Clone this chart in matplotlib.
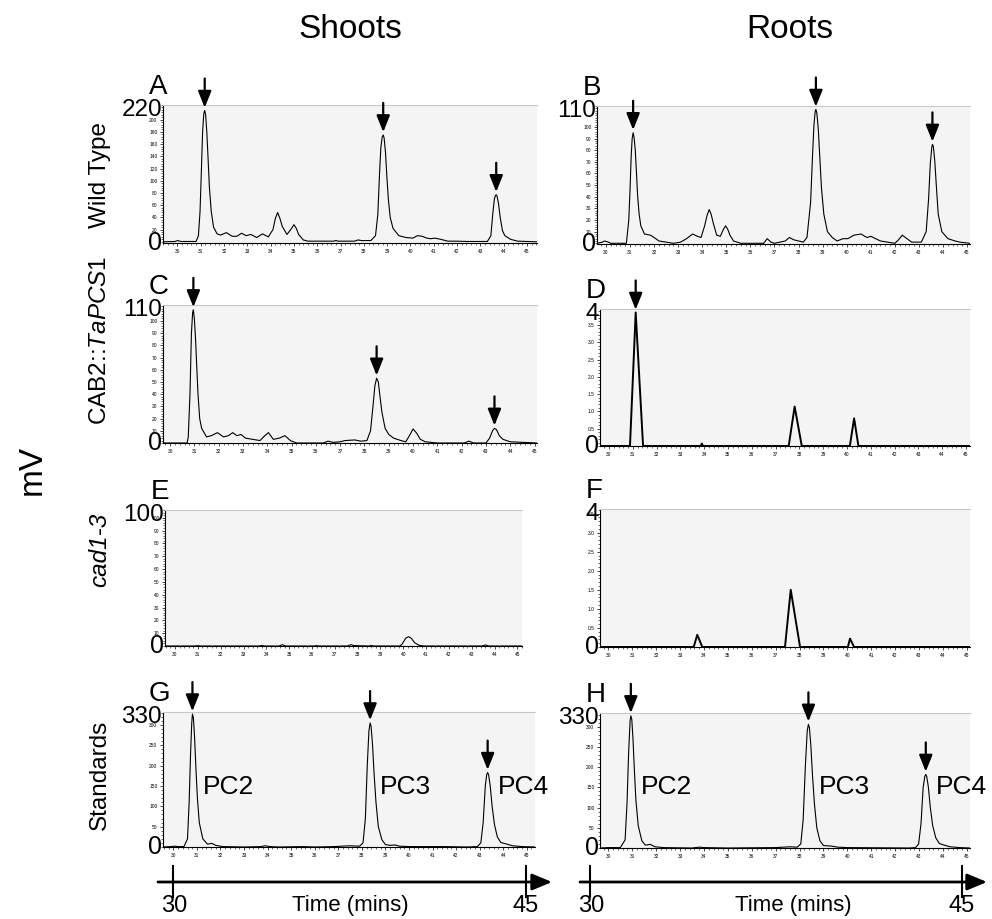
import numpy as np
import matplotlib
matplotlib.use("Agg")
import matplotlib.pyplot as plt
from matplotlib.ticker import AutoMinorLocator, FixedLocator, FormatStrFormatter

plt.rcParams['font.family'] = ['Liberation Sans', 'DejaVu Sans']
plt.rcParams['mathtext.fontset'] = 'custom'
plt.rcParams['mathtext.rm'] = 'Liberation Sans'
plt.rcParams['mathtext.it'] = 'Liberation Sans:italic'

# --- chromatogram traces (time in min, signal in mV) ---
a_time = [29.4, 29.9, 30.0, 30.15, 30.8, 30.9, 30.97, 31.03, 31.08, 31.13, 31.17, 31.21, 31.26,
          31.31, 31.37, 31.45, 31.55, 31.7, 31.85, 32.1, 32.35, 32.55, 32.75, 32.95, 33.15,
          33.4, 33.65, 33.9, 34.1, 34.2, 34.3, 34.4, 34.5, 34.7, 34.9, 35.0, 35.1, 35.2, 35.4,
          35.6, 36.7, 36.8, 36.9, 37.6, 37.75, 37.9, 38.3, 38.5, 38.6, 38.67, 38.73, 38.79,
          38.83, 38.87, 38.93, 38.99, 39.05, 39.13, 39.25, 39.5, 39.8, 40.1, 40.3, 40.5, 40.7,
          40.85, 41.05, 41.3, 41.6, 42.0, 42.4, 43.3, 43.45, 43.53, 43.6, 43.65, 43.68, 43.72,
          43.78, 43.85, 43.95, 44.05, 44.3, 44.6, 45.0, 45.43]
a_mv = [0, 0.5, 2, 0.5, 0.5, 10, 50, 120, 180, 210, 215, 208, 180,
        140, 90, 50, 24, 13, 11, 15, 9, 9, 14, 10, 12,
        7, 13, 8, 20, 38, 48, 38, 25, 12, 22, 28, 22, 12, 3,
        1, 1, 2, 1, 1, 3, 2, 2, 10, 45, 110, 155, 172,
        175, 170, 145, 105, 70, 40, 22, 10, 7, 6, 10, 9, 6,
        5, 6, 4, 1, 1, 0.5, 0.5, 10, 45, 70, 76, 77, 74,
        62, 40, 18, 10, 4, 1, 0.5, 0]

b_time = [29.63, 29.85, 29.95, 30.1, 30.2, 30.85, 30.95, 31.0, 31.05, 31.09, 31.13, 31.17,
          31.22, 31.27, 31.32, 31.38, 31.45, 31.6, 31.85, 32.0, 32.2, 32.5, 32.8, 33.1, 33.35,
          33.6, 33.8, 33.95, 34.1, 34.2, 34.29, 34.37, 34.45, 34.6, 34.75, 34.88, 34.97, 35.06,
          35.15, 35.3, 35.6, 36.55, 36.7, 36.85, 37.0, 37.45, 37.62, 37.8, 38.2, 38.35, 38.5,
          38.58, 38.64, 38.69, 38.72, 38.76, 38.82, 38.88, 38.95, 39.05, 39.2, 39.4, 39.6,
          39.85, 40.05, 40.3, 40.6, 40.75, 40.85, 41.0, 41.2, 41.4, 41.7, 42.0, 42.15, 42.31,
          42.5, 42.7, 43.1, 43.3, 43.4, 43.47, 43.53, 43.56, 43.6, 43.66, 43.72, 43.8, 43.95,
          44.2, 44.5, 44.7, 45.12]
b_mv = [0, 1, 2, 1, 0, 0, 20, 45, 75, 90, 95, 91,
        80, 60, 40, 25, 15, 8, 7, 5, 2, 1, 0, 1, 4,
        8, 6, 5, 15, 24, 29, 25, 18, 7, 6, 12, 15, 12,
        7, 2, 0, 0, 4, 1, 0, 2, 5, 3, 1, 5, 35,
        75, 102, 113, 115, 112, 98, 75, 48, 25, 10, 5, 2,
        4, 4, 7, 8, 6, 5, 6, 4, 2, 1, 0, 3, 7,
        4, 1, 1, 10, 38, 68, 82, 85, 83, 70, 50, 25, 10,
        4, 2, 1, 0]

c_time = [29.71, 30.7, 30.75, 30.82, 30.88, 30.93, 30.96, 31.0, 31.05, 31.1, 31.15, 31.22,
          31.3, 31.5, 31.7, 31.95, 32.2, 32.4, 32.58, 32.75, 32.92, 33.1, 33.4, 33.7, 33.9,
          34.05, 34.25, 34.5, 34.73, 34.95, 35.2, 36.3, 36.5, 36.7, 37.0, 37.2, 37.6, 37.85,
          38.1, 38.25, 38.35, 38.43, 38.5, 38.57, 38.64, 38.72, 38.85, 39.0, 39.2, 39.5, 39.7,
          39.85, 40.0, 40.15, 40.3, 40.5, 41.0, 42.1, 42.3, 42.5, 43.0, 43.15, 43.27, 43.35,
          43.43, 43.55, 43.7, 44.0, 45.1]
c_mv = [0, 0, 5, 40, 90, 107, 109, 102, 85, 62, 40, 20,
        12, 5, 6, 8.5, 5, 6, 8.5, 6, 7, 4, 3, 2, 6,
        8.5, 3, 4, 6, 2, 0, 0, 1.5, 0.5, 1, 2, 2.5, 1.5,
        2, 10, 30, 47, 53, 50, 38, 25, 12, 7, 4, 2, 1,
        6, 11.5, 8, 3, 1, 0, 0, 1.5, 0, 0, 4, 10, 12,
        11, 6, 3, 1, 0]

d_time = [29.62, 30.88, 31.12, 31.43, 33.85, 33.9, 33.95, 37.55, 37.8, 38.1, 40.12, 40.3, 40.48, 45.17]
d_mv = [0, 0, 3.86, 0, 0, 0.07, 0, 0, 1.14, 0, 0, 0.80, 0, 0]

e_time = [29.56, 30.9, 31.0, 31.1, 33.7, 33.8, 33.9, 34.55, 34.7, 34.85, 36.1, 36.2, 36.3,
          37.55, 37.7, 37.85, 38.5, 38.6, 38.7, 39.85, 39.95, 40.1, 40.23, 40.35, 40.5, 40.7,
          40.9, 43.45, 43.6, 43.75, 45.2]
e_mv = [0, 0, 0.3, 0, 0, 0.4, 0, 0, 1.0, 0, 0, 0.3, 0,
        0, 1.0, 0.3, 0, 0.4, 0, 0, 1.5, 6, 7.3, 6, 2.5, 0.5,
        0, 0, 0.8, 0, 0]

f_time = [29.65, 33.57, 33.72, 33.93, 37.39, 37.63, 38.02, 40.02, 40.11, 40.28, 45.13]
f_mv = [0, 0, 0.32, 0, 0, 1.5, 0, 0, 0.22, 0, 0]

g_time = [29.56, 29.9, 30.05, 30.2, 30.45, 30.6, 30.67, 30.73, 30.78, 30.81, 30.85, 30.9,
          30.96, 31.02, 31.1, 31.25, 31.45, 31.63, 31.8, 32.1, 33.0, 33.7, 33.9, 34.1, 34.5,
          35.5, 36.0, 36.8, 37.5, 37.9, 38.05, 38.15, 38.23, 38.3, 38.35, 38.39, 38.45, 38.52,
          38.6, 38.7, 38.85, 39.0, 39.2, 39.4, 39.6, 40.0, 41.5, 42.5, 42.9, 43.05, 43.15,
          43.24, 43.3, 43.34, 43.38, 43.45, 43.53, 43.63, 43.75, 43.9, 44.1, 44.4, 44.8, 45.35]
g_mv = [0, 1, 2, 1, 1, 20, 110, 230, 305, 327, 318, 270,
        190, 120, 60, 20, 7, 9, 4, 1, 0, 1, 3, 1, 0,
        1, 0, 1, 3, 2, 10, 70, 200, 285, 305, 298, 255, 180,
        110, 50, 18, 6, 4, 5, 2, 1, 1, 0, 1, 10, 60,
        150, 178, 183, 178, 150, 100, 55, 25, 11, 8, 3, 1, 0]

h_time = [29.65, 30.0, 30.5, 30.7, 30.78, 30.85, 30.91, 30.94, 30.98, 31.03, 31.09, 31.15,
          31.25, 31.4, 31.55, 31.75, 31.95, 32.3, 33.5, 33.8, 34.0, 35.0, 37.0, 37.6, 37.9,
          38.05, 38.15, 38.24, 38.32, 38.37, 38.41, 38.47, 38.54, 38.62, 38.72, 38.85, 39.0,
          39.3, 39.6, 40.0, 42.6, 42.85, 42.98, 43.08, 43.17, 43.24, 43.28, 43.32, 43.39,
          43.47, 43.57, 43.7, 43.85, 44.0, 44.3, 44.7, 45.13]
h_mv = [0, 1, 1, 20, 110, 240, 315, 327, 318, 270, 190, 120,
        55, 18, 7, 9, 3, 1, 0, 2, 1, 0, 1, 3, 2,
        10, 70, 200, 290, 306, 298, 255, 180, 110, 50, 18, 6,
        5, 2, 1, 0, 1, 10, 60, 150, 177, 182, 177, 150,
        100, 55, 25, 11, 8, 3, 1, 0]

# peaks marked with arrows
a_arrows = [31.17, 38.83, 43.68]
b_arrows = [31.13, 38.72, 43.56]
c_arrows = [30.96, 38.5, 43.35]
d_arrows = [31.12]
g_arrows = [30.81, 38.35, 43.34]
h_arrows = [30.94, 38.37, 43.28]

# small printed y tick labels of each chromatogram
yticks_a = list(range(20, 201, 20))
yticks_b = list(range(10, 101, 10))
yticks_c = list(range(10, 101, 10))
yticks_d = [0.5, 1.0, 1.5, 2.0, 2.5, 3.0, 3.5]
yticks_e = list(range(10, 101, 10))
yticks_f = [0.5, 1.0, 1.5, 2.0, 2.5, 3.0, 3.5]
yticks_g = [50, 100, 150, 200, 250, 300]
yticks_h = [50, 100, 150, 200, 250, 300]
xticks = list(range(30, 46))

# big hand-written scale labels (top value)
top_labels = ['220', '110', '110', '4', '100', '4', '330', '330']
letters = ['A', 'B', 'C', 'D', 'E', 'F', 'G', 'H']
row_labels = ['Wild Type', r'CAB2::$\it{TaPCS1}$', 'cad1-3', 'Standards']
pc_labels = ['PC2', 'PC3', 'PC4']

W, H = 992, 919
fig = plt.figure(figsize=(W / 100, H / 100), dpi=100)

# panel boxes in pixels: left, right, top, bottom, xlim, ylim
panels = [
    (163, 537, 105, 243, (29.38, 45.43), (-2, 224)),
    (597, 970, 106, 244, (29.63, 45.12), (-0.6, 118)),
    (163, 537, 305, 443, (29.71, 45.1), (0, 113)),
    (600, 970, 309, 446, (29.62, 45.17), (0, 3.96)),
    (165, 522, 510, 646, (29.56, 45.2), (0, 106)),
    (600, 970, 509, 647, (29.65, 45.13), (0, 3.62)),
    (163, 535, 712, 847, (29.56, 45.35), (0, 332)),
    (600, 970, 713, 848, (29.65, 45.13), (0, 334)),
]
traces = [(a_time, a_mv), (b_time, b_mv), (c_time, c_mv), (d_time, d_mv),
          (e_time, e_mv), (f_time, f_mv), (g_time, g_mv), (h_time, h_mv)]
arrows = [a_arrows, b_arrows, c_arrows, d_arrows, [], [], g_arrows, h_arrows]
yticks = [yticks_a, yticks_b, yticks_c, yticks_d, yticks_e, yticks_f, yticks_g, yticks_h]

for i, (l, r, t, b, xl, yl) in enumerate(panels):
    ax = fig.add_axes([l / W, 1 - b / H, (r - l) / W, (b - t) / H])
    ax.set_facecolor('#f4f4f4')
    tt, mv = traces[i]
    lw = 1.4 if i in (3, 5) else 0.8
    ax.plot(tt, mv, color='black', lw=lw)
    ax.set_xlim(*xl)
    ax.set_ylim(*yl)
    ax.spines['right'].set_visible(False)
    ax.spines['top'].set_color('#c8c8c8')
    ax.spines['top'].set_linewidth(0.8)
    for s in ('left', 'bottom'):
        ax.spines[s].set_linewidth(0.8)
    ax.xaxis.set_major_locator(FixedLocator(xticks))
    ax.xaxis.set_minor_locator(AutoMinorLocator(5))
    ax.yaxis.set_major_locator(FixedLocator(yticks[i]))
    ax.yaxis.set_minor_locator(AutoMinorLocator(5))
    if i in (3, 5):
        ax.yaxis.set_major_formatter(FormatStrFormatter('%.1f'))
    ax.tick_params(which='major', length=2.5, width=0.5, labelsize=3.5, pad=1.5)
    ax.tick_params(which='minor', length=1.3, width=0.4)

    for pt in arrows[i]:
        ph = np.interp(pt, tt, mv)
        ax.annotate('', xy=(pt, ph), xytext=(0, 32), textcoords='offset pixels',
                    annotation_clip=False,
                    arrowprops=dict(arrowstyle='-|>,head_length=0.5,head_width=0.2',
                                    mutation_scale=20, lw=1.6, color='black',
                                    shrinkA=0, shrinkB=2))

# overlay in pixel coordinates for all the hand-added labels
overlay = fig.add_axes([0, 0, 1, 1])
overlay.set_xlim(0, W)
overlay.set_ylim(H, 0)
overlay.axis('off')
overlay.set_zorder(10)

for i, (l, r, t, b, xl, yl) in enumerate(panels):
    overlay.text(l - 1, t + 5, top_labels[i], ha='right', va='center', fontsize=17.5)
    overlay.text(l - 1, b, '0', ha='right', va='center', fontsize=18)
    overlay.text(l - 14, t - 5, letters[i], ha='left', va='bottom', fontsize=20)
    if i >= 6:
        for k, pt in enumerate(arrows[i]):
            # label sits just right of each standard peak
            x_px = l + (pt - xl[0]) / (xl[1] - xl[0]) * (r - l)
            overlay.text(x_px + 10, 787, pc_labels[k], ha='left', va='center', fontsize=19)

# column titles, y unit and row labels
overlay.text(350, 30, 'Shoots', ha='center', va='center', fontsize=24)
overlay.text(790, 30, 'Roots', ha='center', va='center', fontsize=24)
overlay.text(32, 470, 'mV', ha='center', va='center', rotation=90, fontsize=24)
for y, lab in zip([175, 340, 550, 775], row_labels):
    style = 'italic' if lab == 'cad1-3' else 'normal'
    overlay.text(100, y, lab, ha='center', va='center', rotation=90, fontsize=17.5,
                 fontstyle=style)

# hand-drawn time axes under each column
for x0, x1, t30, t45, tc in [(158, 552, 173, 526, 350), (580, 987, 590, 962, 793)]:
    overlay.annotate('', xy=(x1, 882), xytext=(x0, 882),
                     arrowprops=dict(arrowstyle='-|>,head_length=0.6,head_width=0.25',
                                     mutation_scale=20, lw=2, color='black',
                                     shrinkA=0, shrinkB=0))
    overlay.plot([t30, t30], [866, 897], color='black', lw=1.5)
    overlay.plot([t45, t45], [866, 897], color='black', lw=1.5)
    overlay.text(t30 + 1, 906, '30', ha='center', va='center', fontsize=17)
    overlay.text(t45, 906, '45', ha='center', va='center', fontsize=17)
    overlay.text(tc, 906, 'Time (mins)', ha='center', va='center', fontsize=16)

fig.savefig('out.png', dpi=100)
